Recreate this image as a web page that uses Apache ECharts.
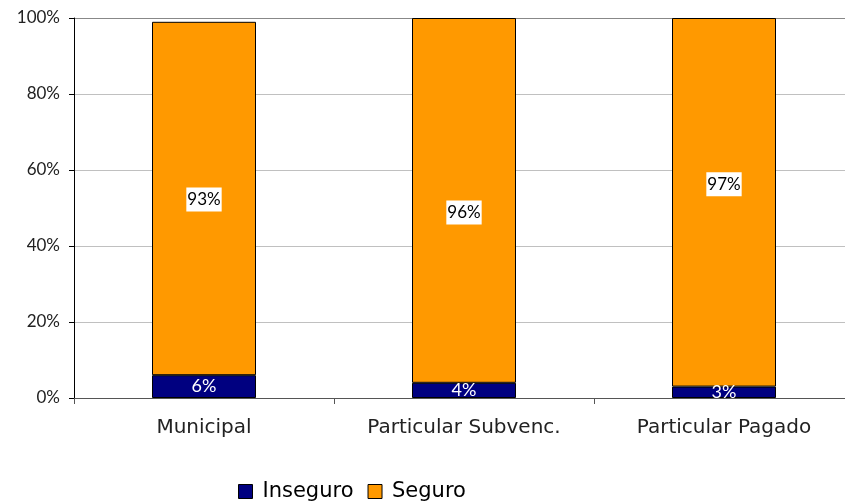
<!DOCTYPE html>
<html><head><meta charset="utf-8">
<script src="https://cdn.jsdelivr.net/npm/echarts@6/dist/echarts.min.js"></script>
<style>html,body{margin:0;padding:0;background:#fff;overflow:hidden;width:845px;height:504px}#c{width:864px;height:504px}</style>
</head><body><div id="c"></div>
<script>
const categories = ['Municipal', 'Particular Subvenc.', 'Particular Pagado'];
const inseguro = [6, 4, 3];
const seguro = [93, 96, 97];
const yTicks = [0, 20, 40, 60, 80, 100];
// manual vertical nudges of the Seguro labels (styling, px)
const seguroLabelNudge = [1, 12, -18];

const NUM = 'Lato';
const TXT = 'DejaVu Sans';
const chart = echarts.init(document.getElementById('c'));
chart.setOption({
  animation: false,
  grid: { left: 74, right: 10, top: 18, bottom: 106 },
  legend: {
    left: 233, top: 476, itemWidth: 14, itemHeight: 14, itemGap: 14,
    textStyle: { fontSize: 21, color: '#000', fontFamily: TXT, padding: [0, 0, 0, 5] },
    data: [
      { name: 'Inseguro', icon: 'rect', itemStyle: { color: '#000080', borderColor: '#000', borderWidth: 1 } },
      { name: 'Seguro', icon: 'rect', itemStyle: { color: '#FF9900', borderColor: '#000', borderWidth: 1 } }
    ]
  },
  xAxis: {
    type: 'category', data: categories,
    axisLine: { lineStyle: { color: '#555', width: 1 } },
    axisTick: { show: true, length: 6, lineStyle: { color: '#555' } },
    axisLabel: { color: '#222', fontSize: 20, margin: 20, fontFamily: TXT }
  },
  yAxis: {
    type: 'value', min: 0, max: 100, interval: 20,
    axisLine: { show: true, lineStyle: { color: '#000', width: 1 } },
    axisTick: { show: true, length: 5, lineStyle: { color: '#000' } },
    axisLabel: { color: '#222', fontSize: 17, margin: 14, fontFamily: NUM,
      formatter: v => yTicks.includes(v) ? v + '%' : '' },
    splitLine: { lineStyle: { color: ['#c0c0c0', '#c0c0c0', '#c0c0c0', '#c0c0c0', '#c0c0c0', '#888'], width: 1 } }
  },
  series: [
    { name: 'Inseguro', type: 'bar', stack: 's', data: inseguro, barWidth: '40%',
      itemStyle: { color: '#000080', borderColor: '#000', borderWidth: 1 },
      label: { show: true, position: 'inside', formatter: '{c}%', color: '#fff', fontSize: 18, fontFamily: NUM } },
    { name: 'Seguro', type: 'bar', stack: 's', barWidth: '40%',
      data: seguro.map((v, i) => ({ value: v, label: { offset: [0, seguroLabelNudge[i]] } })),
      itemStyle: { color: '#FF9900', borderColor: '#000', borderWidth: 1 },
      label: { show: true, position: 'inside', formatter: '{c}%', color: '#000', fontSize: 17, fontFamily: NUM,
        backgroundColor: '#fff', padding: [4, 1, 3, 1] } }
  ]
});
</script></body></html>
